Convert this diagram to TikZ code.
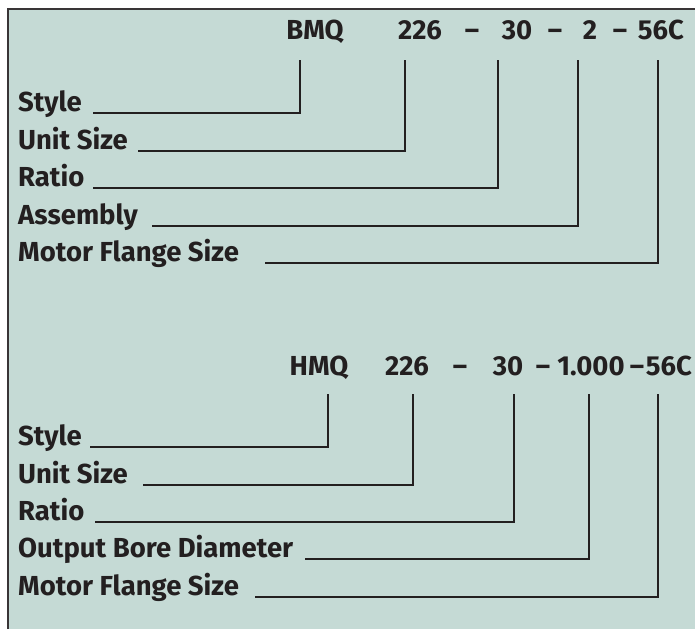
\documentclass[tikz,border=0pt]{standalone}
\usepackage{fontspec}
\setmainfont{Fira Sans}
\usetikzlibrary{positioning}
\definecolor{PanelGreen}{RGB}{197,218,213}
\definecolor{InkBlack}{RGB}{35,31,32}

\begin{document}
\begin{tikzpicture}[x=1pt, y=-1pt,
    lbl/.style={anchor=base west, inner sep=0pt, text=InkBlack,
                font=\fontsize{27.5}{32}\selectfont\bfseries},
    part/.style={anchor=base, inner sep=0pt, text=InkBlack,
                 font=\fontsize{27.5}{32}\selectfont\bfseries},
    lead/.style={draw=InkBlack, line width=2pt}
  ]
  \useasboundingbox (0,0) rectangle (695,629);
  \fill[PanelGreen] (8,9) rectangle (695,629);
  \draw[draw=InkBlack!90, line width=2pt] (8,629) -- (8,9) -- (695,9);

  % first code: BMQ
  \node[part] (bmq)  at (315,39) {BMQ};
  \node[part] (bsz)  at (420,39) {226};
  \node[part] (bd1)  at (472,39) {--};
  \node[part] (brt)  at (517,39) {30};
  \node[part] (bd2)  at (555,39) {--};
  \node[part] (bas)  at (590,39) {2};
  \node[part] (bd3)  at (620,39) {--};
  \node[part] (bfl)  at (661,39) {56C};

  \coordinate (bmq top) at (300,60);
  \coordinate (bsz top) at (405,60);
  \coordinate (brt top) at (498,60);
  \coordinate (bas top) at (578,60);
  \coordinate (bfl top) at (658,60);

  \node[lbl] (bstyle) at (18,111) {Style};
  \node[lbl] (bunit)  at (18,149) {Unit Size};
  \node[lbl] (bratio) at (18,186) {Ratio};
  \node[lbl] (bassy)  at (18,224) {Assembly};
  \node[lbl] (bflng)  at (18,261) {Motor Flange Size};

  \draw[lead] ([xshift=75pt,yshift=-2pt]bstyle.base west) -| (bmq top);
  \draw[lead] ([xshift=120pt,yshift=-2pt]bunit.base west) -| (bsz top);
  \draw[lead] ([xshift=75pt,yshift=-2pt]bratio.base west) -| (brt top);
  \draw[lead] ([xshift=134pt,yshift=-2pt]bassy.base west) -| (bas top);
  \draw[lead] ([xshift=247pt,yshift=-2pt]bflng.base west) -| (bfl top);

  % second code: HMQ
  \node[part] (hmq)  at (319,375) {HMQ};
  \node[part] (hsz)  at (407,375) {226};
  \node[part] (hd1)  at (460,375) {--};
  \node[part] (hrt)  at (508,375) {30};
  \node[part] (hd2)  at (543,375) {--};
  \node[part] (hbr)  at (591,375) {1.000};
  \node[part] (hd3)  at (637,375) {--};
  \node[part] (hfl)  at (669,375) {56C};

  \coordinate (hmq top) at (328,394);
  \coordinate (hsz top) at (413,394);
  \coordinate (hrt top) at (514,394);
  \coordinate (hbr top) at (589,394);
  \coordinate (hfl top) at (658,394);

  \node[lbl] (hstyle) at (18,445) {Style};
  \node[lbl] (hunit)  at (18,483) {Unit Size};
  \node[lbl] (hratio) at (18,520) {Ratio};
  \node[lbl] (hbore)  at (18,557) {Output Bore Diameter};
  \node[lbl] (hflng)  at (18,595) {Motor Flange Size};

  \draw[lead] ([xshift=72pt,yshift=-2pt]hstyle.base west) -| (hmq top);
  \draw[lead] ([xshift=125pt,yshift=-2pt]hunit.base west) -| (hsz top);
  \draw[lead] ([xshift=77pt,yshift=-2pt]hratio.base west) -| (hrt top);
  \draw[lead] ([xshift=287pt,yshift=-2pt]hbore.base west) -| (hbr top);
  \draw[lead] ([xshift=237pt,yshift=-2pt]hflng.base west) -| (hfl top);
\end{tikzpicture}
\end{document}
